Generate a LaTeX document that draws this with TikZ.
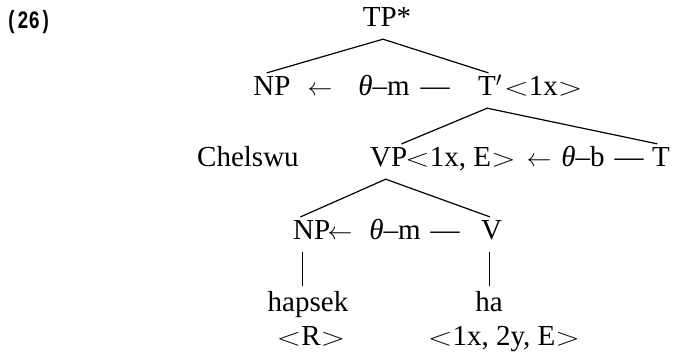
\documentclass[tikz,border=0pt]{standalone}
\usepackage{fontspec}
\usepackage{graphicx}
\setmainfont{Liberation Serif}
\newfontfamily\monof{Liberation Mono}
\newcommand\angl{\scalebox{1.3}[1]{$<$}}
\newcommand\angr{\scalebox{1.3}[1]{$>$}}
\newcommand\larr{$\leftarrow$}
\begin{document}
\begin{tikzpicture}[x=1pt,y=-1pt,
  txt/.style={inner sep=0pt, font=\fontsize{29}{29}\selectfont},
  cat/.style={txt, text height=19pt, text depth=8pt, inner ysep=4pt, inner xsep=0pt},
  leaf/.style={txt, text height=22pt, text depth=0pt, inner ysep=4pt, inner xsep=0pt},
  edge/.style={line width=1.2pt, line cap=round}]
\useasboundingbox (0,0) rectangle (675,355);
% label
\node[inner sep=0pt, anchor=base west, font=\monof\bfseries\fontsize{25}{25}\selectfont] (num) at (6,29) {\scalebox{0.75}[1]{(26)}};
% row 1
\node[cat, anchor=base] (tp) at (387,27) {TP*};
% row 2
\node[cat, anchor=base] (np1) at (272,96) {NP};
\node[txt, anchor=base] (ar1) at (320,96) {\larr};
\node[txt, anchor=base] (th1) at (384,96) {{\itshape θ}--m};
\node[txt, anchor=base] (da1) at (435,96) {—};
\node[cat, anchor=base west] (tbar) at (478,96) {T$'$};
\node[txt, anchor=base west] (f1) at (504,96) {\angl1x\angr};
% row 3
\node[txt, anchor=base west] (chel) at (197,167) {Chelswu};
\node[cat, anchor=base west] (vp) at (370,167) {VP};
\node[txt, anchor=base west] (f2) at (405,167) {\angl1x, E\angr};
\node[txt, anchor=base] (ar2) at (539,167) {\larr};
\node[txt, anchor=base] (th2) at (583,167) {{\itshape θ}--b};
\node[txt, anchor=base] (da2) at (629,167) {—};
\node[cat, anchor=base west] (t) at (652,167) {T};
% row 4
\node[cat, anchor=base west] (np2) at (293,240) {NP};
\node[txt, anchor=base] (ar3) at (340,240) {\larr};
\node[txt, anchor=base] (th3) at (395,240) {{\itshape θ}--m};
\node[txt, anchor=base] (da3) at (445,240) {—};
\node[cat, anchor=base west] (v) at (481,240) {V};
% row 5
\node[leaf, anchor=base] (hap) at (308,312) {hapsek};
\node[leaf, anchor=base] (ha) at (489,312) {ha};
% row 6
\node[txt, anchor=base] (r) at (311,346) {\angl R\angr};
\node[txt, anchor=base] (f3) at (504,346) {\angl1x, 2y, E\angr};
% edges
\draw[edge] ([xshift=-4pt]tp.south) -- ([xshift=-5pt]np1.north);
\draw[edge] ([xshift=-4pt]tp.south) -- ([xshift=-2pt]tbar.north);
\draw[edge] ([xshift=-3pt]tbar.south) -- ([xshift=13pt]vp.north);
\draw[edge] ([xshift=-3pt]tbar.south) -- ([xshift=-4pt]t.north);
\draw[edge] ([xshift=-3pt]vp.south) -- ([xshift=-11pt]np2.north);
\draw[edge] ([xshift=-3pt]vp.south) -- ([xshift=-2pt]v.north);
\draw[edge] ([xshift=-9pt]np2.south) -- ([xshift=-9pt]np2.south |- hap.north);
\draw[edge] ([xshift=-2pt]v.south) -- ([xshift=-2pt]v.south |- ha.north);
\end{tikzpicture}
\end{document}
